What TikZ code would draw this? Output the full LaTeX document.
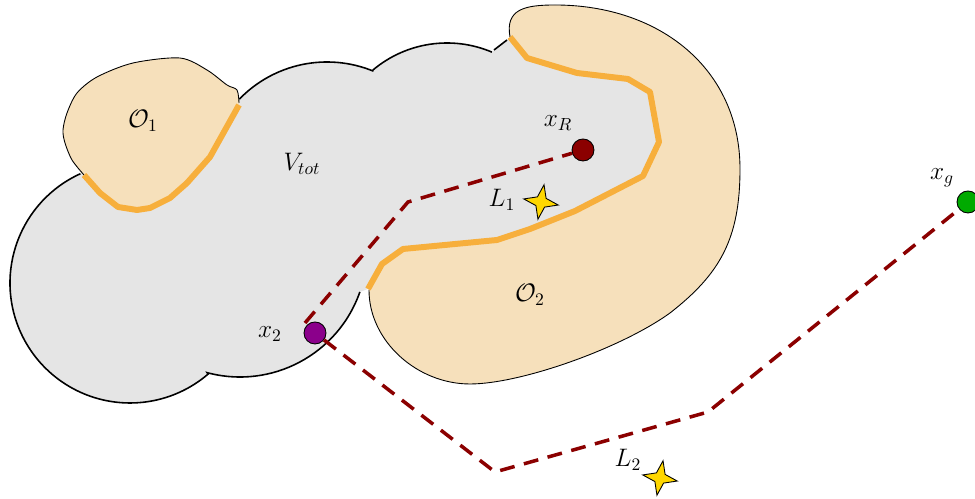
\documentclass[tikz,border=0pt]{standalone}
\usepackage{tikz}
\usetikzlibrary{shapes.geometric,calc}
\definecolor{cinzaVol}{RGB}{229,229,229}
\definecolor{areiaObst}{RGB}{246,224,187}
\definecolor{laranjaBorda}{RGB}{247,175,60}
\definecolor{vermelhoCaminho}{RGB}{139,0,0}
\definecolor{roxoPonto}{RGB}{139,0,139}
\definecolor{verdeMeta}{RGB}{0,170,0}
\definecolor{amareloMarco}{RGB}{255,215,0}
\tikzset{
  volume/.style={fill=cinzaVol},
  contorno/.style={draw=black, line width=0.9pt},
  obstaculo/.style={fill=areiaObst},
  contornoObst/.style={draw=black, line width=0.5pt},
  borda/.style={draw=laranjaBorda, line width=3.4pt, line join=round},
  caminho/.style={draw=vermelhoCaminho, line width=2pt, dash pattern=on 8.5pt off 5.5pt},
  ponto/.style={circle, draw=black, line width=0.5pt, minimum size=0.44cm, inner sep=0pt},
  marco/.style={star, star points=4, star point ratio=2.8, draw=black, line width=0.5pt,
                fill=amareloMarco, minimum size=0.7cm, inner sep=0pt, rotate=-10},
  rotulo/.style={font=\Large, inner sep=0pt},
}

\begin{document}
\begin{tikzpicture}[x=0.02cm, y=0.02cm]
  \useasboundingbox (0,0) rectangle (975,499);
  % centros das bolas
  \coordinate (c1) at (130,216);
  \coordinate (c2) at (240,249);
  \coordinate (c3) at (327,315);
  \coordinate (c4) at (447,341);

  % volume total
  \fill[volume] ($(c1)+(114.4:120)$) arc[start angle=114.4, end angle=310.6, radius=120]
    -- ($(c2)+(255:127)$) arc[start angle=255, end angle=340.7, radius=127]
    -- (368,210) -- (400,199) -- (600,239) -- (700,319) -- (700,419) -- (600,469)
    -- (520,469) -- (507,459) -- (494,449)
    -- ($(c4)+(67:115)$) arc[start angle=67, end angle=130, radius=115]
    -- ($(c3)+(68:122)$) arc[start angle=68, end angle=136, radius=122]
    -- (200,420) -- (100,380) -- cycle;
  \draw[contorno] ($(c1)+(114.4:120)$) arc[start angle=114.4, end angle=310.6, radius=120]
    -- ($(c2)+(255:127)$) arc[start angle=255, end angle=340.7, radius=127];
  \draw[contorno] ($(c4)+(67:115)$) arc[start angle=67, end angle=130, radius=115]
    -- ($(c3)+(68:122)$) arc[start angle=68, end angle=136, radius=122];
  \draw[contorno] (494,449) -- (507,459);

  % obstaculo 1
  \fill[obstaculo] plot[smooth] coordinates {(84,324) (72,339) (65,356) (63,369) (67,386)
      (77,406) (97,422) (133,436) (180,441) (207,429) (227,414) (237,409) (239,396)}
    -- (239,394) -- (210,342) -- (187,316) -- (170,301) -- (150,291) -- (137,289)
    -- (118,292) -- (100,306) -- cycle;
  \draw[contornoObst] plot[smooth] coordinates {(84,324) (72,339) (65,356) (63,369) (67,386)
      (77,406) (97,422) (133,436) (180,441) (207,429) (227,414) (237,409) (239,396)};
  \draw[borda] (239,394) -- (210,342) -- (187,316) -- (170,301) -- (150,291) -- (137,289)
    -- (118,292) -- (100,306) -- (84,324);

  % obstaculo 2
  \fill[obstaculo] (510,462) .. controls (505,490) and (525,494) .. (555,494)
    .. controls (660,494) and (740,430) .. (740,330)
    .. controls (740,260) and (720,225) .. (670,186)
    .. controls (620,150) and (520,115) .. (470,115)
    .. controls (417,115) and (369,158) .. (369,209)
    -- (368,210) -- (382,235) -- (403,250) -- (497,259) -- (530,270) -- (575,288)
    -- (643,323) -- (659,357) -- (650,407) -- (628,420) -- (577,426) -- (527,441) -- cycle;
  \draw[contornoObst] (510,462) .. controls (505,490) and (525,494) .. (555,494)
    .. controls (660,494) and (740,430) .. (740,330)
    .. controls (740,260) and (720,225) .. (670,186)
    .. controls (620,150) and (520,115) .. (470,115)
    .. controls (417,115) and (369,158) .. (369,209);
  \draw[borda] (368,210) -- (382,235) -- (403,250) -- (497,259) -- (530,270) -- (575,288)
    -- (643,323) -- (659,357) -- (650,407) -- (628,420) -- (577,426) -- (527,441) -- (510,462);

  % pontos e caminhos
  \node[ponto, fill=vermelhoCaminho] (xR) at (583,349) {};
  \node[ponto, fill=roxoPonto] (x2) at (315,166) {};
  \node[ponto, fill=verdeMeta] (xg) at (968,297) {};
  \coordinate (p1) at (305,176);
  \coordinate (q1) at (408,297);
  \coordinate (q2) at (495,27);
  \coordinate (q3) at (708,87);
  \draw[caminho] (p1) -- (q1) -- (xR);
  \draw[caminho] (x2) -- (q2) -- (q3) -- (xg);

  \node[marco] (l1) at (541,297) {};
  \node[marco] (l2) at (660,21) {};

  \node[rotulo] (o1lab) at (143,378) {$\mathcal{O}_1$};
  \node[rotulo] (o2lab) at (530,204) {$\mathcal{O}_2$};
  \node[rotulo] (vlab) at (302,335) {$V_{tot}$};
  \node[rotulo] (xRlab) at (558,376) {$x_R$};
  \node[rotulo] (x2lab) at (270,165) {$x_2$};
  \node[rotulo] (xglab) at (942,321) {$x_g$};
  \node[rotulo] (l1lab) at (502,299) {$L_1$};
  \node[rotulo] (l2lab) at (628,39) {$L_2$};
\end{tikzpicture}
\end{document}
